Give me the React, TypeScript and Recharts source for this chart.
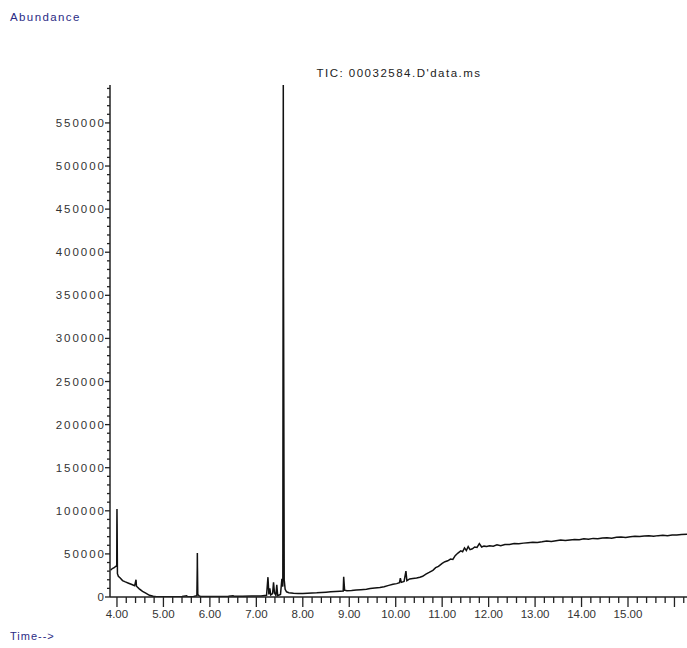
import { LineChart, Line, XAxis, YAxis } from "recharts";

// retention time (min)
const times = [
  3.86, 3.9, 3.94, 3.97, 3.995, 3.998, 4.0, 4.003, 4.01, 4.03, 4.07, 4.12, 4.18, 4.25, 4.32, 4.38, 4.41, 4.42,
  4.48, 4.55, 4.62, 4.7, 4.78, 4.85, 5.0, 5.2, 5.4, 5.5, 5.52, 5.65, 5.72, 5.728, 5.73, 5.733, 5.74, 5.77,
  5.8, 6.0, 6.2, 6.4, 6.5, 6.52, 6.7, 6.9, 7.1, 7.22, 7.25, 7.27, 7.29, 7.31, 7.35, 7.37,
  7.39, 7.42, 7.44, 7.46, 7.52, 7.55, 7.57, 7.576, 7.58, 7.585, 7.6, 7.62, 7.65, 7.7, 7.8, 7.9, 8.0, 8.1,
  8.2, 8.3, 8.4, 8.5, 8.6, 8.7, 8.8, 8.87, 8.88, 8.9, 8.95, 9.05, 9.15, 9.25, 9.37, 9.45,
  9.55, 9.66, 9.75, 9.85, 9.94, 10.02, 10.08, 10.1, 10.12, 10.18, 10.22, 10.24, 10.3, 10.37,
  10.45, 10.52, 10.58, 10.65, 10.72, 10.8, 10.86, 10.92, 11.0, 11.06, 11.12, 11.18, 11.23,
  11.28, 11.34, 11.4, 11.44, 11.48, 11.52, 11.56, 11.6, 11.65, 11.7, 11.75, 11.8, 11.85, 11.9,
  11.96, 12.02, 12.1, 12.18, 12.26, 12.35, 12.45, 12.55, 12.65, 12.75, 12.85, 12.95, 13.05,
  13.15, 13.25, 13.35, 13.45, 13.55, 13.65, 13.75, 13.85, 13.95, 14.05, 14.15, 14.25, 14.35,
  14.45, 14.55, 14.65, 14.75, 14.85, 14.95, 15.05, 15.15, 15.25, 15.35, 15.45, 15.55, 15.65,
  15.75, 15.85, 15.95, 16.05, 16.15, 16.27,
];

// total ion current
const abundance = [
  31000, 33000, 34000, 35500, 36000, 85000, 102000, 85000, 27000, 24000, 22000, 19000, 17500, 16000, 14500, 13000, 20000, 12500,
  9500, 6500, 4500, 2000, 800, 300, 200, 300, 500, 1500, 400, 700, 1500, 34000, 51000, 34000, 3000, 1200,
  600, 500, 600, 900, 1500, 800, 1000, 1200, 1300, 2000, 23000, 3000, 10000, 2500, 4000, 17000,
  5000, 2000, 14000, 1500, 3000, 21000, 12000, 370000, 598000, 370000, 20000, 9000, 6000, 5000, 4300, 4000, 4200, 4300,
  4500, 4800, 5300, 5600, 6000, 6500, 6800, 7000, 23500, 8000, 7300, 7500, 8000, 8500, 9000, 9800,
  10500, 11000, 12000, 13500, 14700, 15500, 16500, 22000, 17000, 18000, 30000, 19000, 21000, 21500,
  22000, 23000, 24000, 26500, 28500, 31000, 34000, 35500, 39000, 41000, 42000, 44000, 43500,
  48000, 51000, 53500, 52500, 57000, 54000, 58500, 55000, 56000, 58000, 57500, 62000, 58000, 59000,
  58500, 59500, 59000, 60500, 59500, 61000, 61000, 62000, 61800, 62500, 63000, 63500, 63200,
  64000, 65000, 64500, 65200, 66000, 65500, 66200, 66800, 66500, 67500, 67000, 68000, 67500,
  68500, 68800, 68300, 69200, 69500, 69000, 70000, 70500, 70200, 70800, 71000, 70600, 71200,
  71500, 71200, 71800, 72000, 72500, 72700,
];

const data = times.map((t, i) => ({ t, v: abundance[i] }));

const xTicks = Array.from({ length: 62 }, (_, i) => Math.round((4 + i * 0.2) * 10) / 10);
const yTicks = Array.from({ length: 60 }, (_, i) => i * 10000);

const FONT = "'Liberation Sans', Arial, sans-serif";

const XTick = (props: any) => {
  const { x, y, payload } = props;
  const v = payload.value;
  const major = Math.abs(v - Math.round(v)) < 1e-6;
  return (
    <g>
      <line x1={x} x2={x} y1={y} y2={y + (major ? 10 : 6)} stroke="#222" strokeWidth={1.3} />
      {major && v <= 15 && (
        <text x={x} y={y + 21} textAnchor="middle" fontSize={11.5} fontFamily={FONT} fill="#333">
          {v.toFixed(2)}
        </text>
      )}
    </g>
  );
};

const YTick = (props: any) => {
  const { x, y, payload } = props;
  const v = payload.value;
  const major = v % 50000 === 0;
  return (
    <g>
      <line x1={x - (major ? 5 : 3)} x2={x} y1={y} y2={y} stroke="#222" strokeWidth={1.3} />
      {major && (
        <text
          x={x - 4}
          y={y + 4}
          textAnchor="end"
          fontSize={11.5}
          fontFamily={FONT}
          fill="#333"
          letterSpacing={2}
        >
          {v}
        </text>
      )}
    </g>
  );
};

export default function App() {
  return (
    <div style={{ position: "absolute", left: 0, top: 0, width: 687, height: 648, background: "#fff" }}>
      <LineChart
        width={687}
        height={648}
        data={data}
        margin={{ top: 85, right: 0, bottom: 21, left: 50 }}
      >
        <XAxis
          dataKey="t"
          type="number"
          domain={[3.85, 16.27]}
          allowDataOverflow
          ticks={xTicks}
          interval={0}
          tickSize={0}
          tickMargin={0}
          tickLine={false}
          tick={<XTick />}
          height={30}
          axisLine={{ stroke: "#222", strokeWidth: 1.5 }}
        />
        <YAxis
          type="number"
          domain={[0, 594000]}
          allowDataOverflow
          ticks={yTicks}
          interval={0}
          tickSize={0}
          tickMargin={0}
          tickLine={false}
          tick={<YTick />}
          width={60}
          axisLine={{ stroke: "#222", strokeWidth: 1.5 }}
        />
        <Line
          dataKey="v"
          type="linear"
          stroke="#111"
          strokeWidth={1.5}
          dot={false}
          isAnimationActive={false}
        />
        <text x={10} y={21} fontSize={11.5} fontFamily={FONT} fill="#2b2b85" letterSpacing={1.4}>
          Abundance
        </text>
        <text x={399} y={77} textAnchor="middle" fontSize={11.5} fontFamily={FONT} fill="#222" letterSpacing={1.5}>
          TIC: 00032584.D'data.ms
        </text>
        <text x={10} y={640} fontSize={11} fontFamily={FONT} fill="#2b2b85" letterSpacing={1}>
          Time--&gt;
        </text>
      </LineChart>
    </div>
  );
}
